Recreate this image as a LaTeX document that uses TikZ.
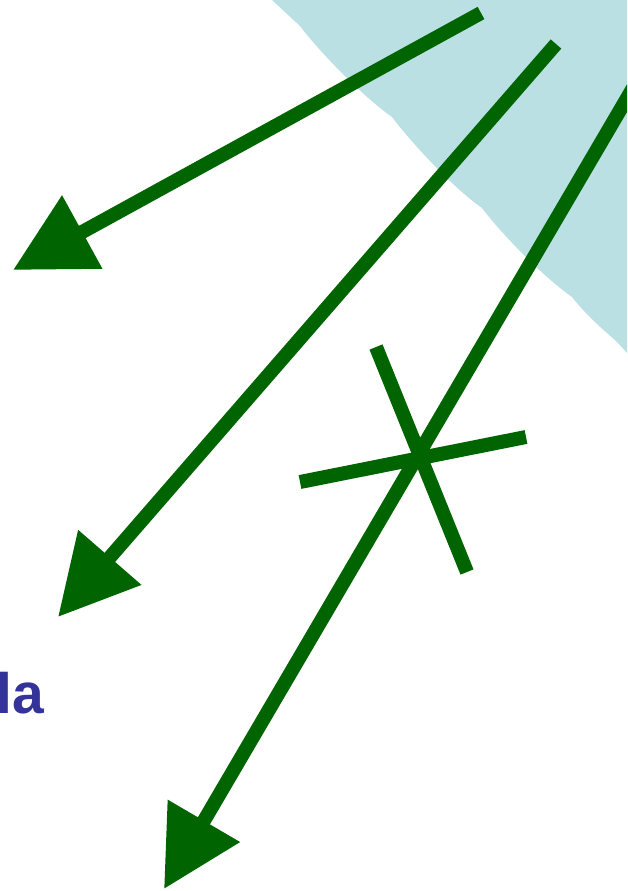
\documentclass[tikz,border=0pt]{standalone}
\usepackage{fontspec}
\newfontfamily\lsans{Liberation Sans}
\usetikzlibrary{arrows.meta}
\definecolor{dgreen}{RGB}{0,100,0}
\definecolor{skyblue}{RGB}{187,224,227}
\definecolor{txtblue}{RGB}{51,51,153}
\tikzset{
  ray/.style={draw=dgreen, line width=14pt, -{Triangle[length=79pt,width=80pt]}},
  bar/.style={draw=dgreen, line width=14pt},
}
\begin{document}
\begin{tikzpicture}[x=1pt,y=-1pt]
\useasboundingbox (0,0) rectangle (627,891);
\clip (0,0) rectangle (627,891);
% light blue region
\fill[skyblue] (272,0) -- (300,26)
  .. controls (318,50) and (362,96) .. (392,117)
  .. controls (410,141) and (452,187) .. (482,208)
  .. controls (500,232) and (542,276) .. (572,297)
  .. controls (590,320) and (610,335) .. (618,343)
  -- (627,353) -- (640,353) -- (640,-10) -- (272,-10) -- cycle;
% end points
\coordinate (s1) at (481,13);
\coordinate (t1) at (13,270);
\coordinate (s2) at (556,44);
\coordinate (t2) at (58,617);
\coordinate (s3) at (640,76);
\coordinate (t3) at (164,889);
\coordinate (c1a) at (376,347);
\coordinate (c1b) at (467,572);
\coordinate (c2a) at (300,482);
\coordinate (c2b) at (526,437);
% arrows
\draw[ray] (s1) -- (t1);
\draw[ray] (s2) -- (t2);
\draw[ray] (s3) -- (t3);
% cross
\draw[bar] (c1a) -- (c1b);
\draw[bar] (c2a) -- (c2b);
% text
\node[anchor=base west, inner sep=0pt, text=txtblue, font=\lsans\bfseries\fontsize{57}{68}\selectfont] (lbl) at (-3.2,713) {la};
\end{tikzpicture}
\end{document}
